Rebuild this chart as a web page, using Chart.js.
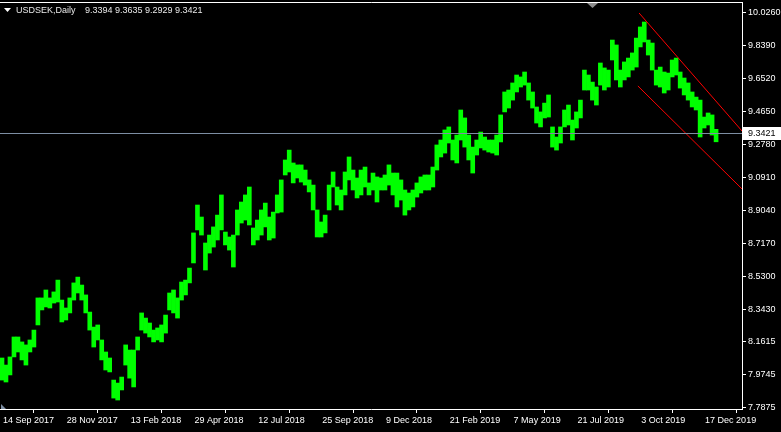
<!DOCTYPE html>
<html><head><meta charset="utf-8">
<script src="https://cdn.jsdelivr.net/npm/chart.js@4/dist/chart.umd.min.js"></script>
<style>html,body{margin:0;padding:0;background:#000;}canvas{display:block}</style>
</head><body>
<canvas id="c" width="781" height="432"></canvas>
<script>
const symbolName = 'USDSEK,Daily';
const lastOHLC = ['9.3394', '9.3635', '9.2929', '9.3421'];
const bidPrice = 9.3421;
const totalSlots = 186;
const dateLabels = ['14 Sep 2017','28 Nov 2017','13 Feb 2018','29 Apr 2018','12 Jul 2018','25 Sep 2018','9 Dec 2018','21 Feb 2019','7 May 2019','21 Jul 2019','3 Oct 2019','17 Dec 2019'];
const dateBarIndex = [0,16,32,48,64,80,96,112,128,144,160,176];
const priceTicks = [10.0260,9.8390,9.6520,9.4650,9.2780,9.0910,8.9040,8.7170,8.5300,8.3430,8.1615,7.9745,7.7875];
const priceMin = 7.7802, priceMax = 10.0843;

const highs = [8.069,8.029,8.075,8.188,8.188,8.160,8.143,8.171,8.227,8.409,
8.409,8.454,8.409,8.443,8.510,8.397,8.352,8.409,8.494,8.527,
8.482,8.426,8.329,8.244,8.256,8.171,8.103,8.069,7.944,7.927,
7.961,8.143,8.114,8.114,8.188,8.324,8.295,8.267,8.227,8.239,
8.256,8.312,8.437,8.454,8.409,8.499,8.510,8.578,8.777,8.935,
8.867,8.720,8.765,8.811,8.878,8.992,8.782,8.754,8.765,8.907,
8.952,8.992,9.037,8.805,8.850,8.907,8.946,8.867,8.895,8.992,
9.077,9.190,9.246,9.173,9.162,9.162,9.133,9.077,9.048,8.907,
8.839,8.878,9.048,9.122,9.037,9.020,9.122,9.207,9.133,9.088,
9.133,9.150,9.060,9.116,9.094,9.088,9.105,9.162,9.116,9.116,
9.077,9.020,9.003,9.020,9.060,9.094,9.105,9.105,9.150,9.275,
9.303,9.360,9.377,9.303,9.331,9.473,9.428,9.331,9.263,9.303,
9.348,9.320,9.303,9.303,9.331,9.445,9.575,9.586,9.626,9.671,
9.660,9.688,9.626,9.575,9.490,9.462,9.512,9.558,9.377,9.320,
9.377,9.473,9.501,9.416,9.462,9.529,9.699,9.671,9.631,9.603,
9.739,9.711,9.699,9.869,9.841,9.699,9.745,9.767,9.796,9.880,
9.943,9.971,9.869,9.852,9.699,9.716,9.688,9.682,9.756,9.767,
9.688,9.654,9.626,9.575,9.546,9.529,9.433,9.456,9.445,9.3635];
const lows = [7.944,7.933,7.973,8.075,8.103,8.058,8.029,8.103,8.131,8.256,
8.341,8.358,8.352,8.380,8.386,8.273,8.284,8.324,8.397,8.437,
8.397,8.324,8.227,8.131,8.171,8.058,8.001,7.990,7.842,7.831,
7.888,8.029,7.955,7.905,8.114,8.227,8.210,8.188,8.160,8.171,
8.160,8.210,8.341,8.324,8.295,8.397,8.426,8.494,8.607,8.794,
8.765,8.567,8.663,8.697,8.737,8.794,8.709,8.680,8.584,8.765,
8.833,8.850,8.822,8.709,8.737,8.765,8.811,8.737,8.748,8.890,
8.895,9.105,9.122,9.060,9.088,9.065,9.048,9.009,8.907,8.754,
8.754,8.777,8.907,9.037,8.935,8.907,8.992,9.077,9.020,8.975,
8.992,9.037,8.992,9.020,8.952,9.020,9.020,9.048,8.992,8.924,
8.963,8.878,8.907,8.924,8.980,9.003,9.020,9.020,9.037,9.133,
9.207,9.229,9.286,9.190,9.173,9.303,9.263,9.190,9.116,9.218,
9.258,9.246,9.235,9.229,9.218,9.292,9.462,9.484,9.529,9.575,
9.603,9.614,9.529,9.484,9.399,9.377,9.428,9.433,9.263,9.246,
9.286,9.377,9.388,9.303,9.371,9.428,9.586,9.586,9.529,9.501,
9.614,9.586,9.603,9.756,9.643,9.603,9.643,9.660,9.699,9.716,
9.830,9.858,9.784,9.699,9.614,9.603,9.569,9.586,9.660,9.671,
9.597,9.558,9.529,9.490,9.473,9.320,9.371,9.388,9.331,9.2929];

const upperChannel = [[159.7, 10.022], [185.5, 9.354]];
const lowerChannel = [[159.4, 9.609], [185.5, 9.026]];

const FONT = {family: '"Liberation Sans", Arial, sans-serif', size: 9};
const FONT_CSS = '9px "Liberation Sans", Arial, sans-serif';

const decor = {
  id: 'decor',
  beforeDraw(chart) {
    const ctx = chart.ctx;
    ctx.save();
    ctx.fillStyle = '#000';
    ctx.fillRect(0, 0, chart.width, chart.height);
    ctx.restore();
  },
  afterDatasetsDraw(chart) {
    const ctx = chart.ctx, a = chart.chartArea;
    const y = Math.round(chart.scales.y.getPixelForValue(bidPrice)) + 0.5;
    ctx.save();
    ctx.strokeStyle = '#7d8ea3';
    ctx.lineWidth = 1;
    ctx.beginPath(); ctx.moveTo(a.left, y); ctx.lineTo(a.right, y); ctx.stroke();
    ctx.restore();
  },
  afterDraw(chart) {
    const ctx = chart.ctx, a = chart.chartArea;
    ctx.save();
    ctx.strokeStyle = '#fff'; ctx.lineWidth = 1;
    ctx.beginPath(); ctx.moveTo(0, 2.5); ctx.lineTo(a.right + 0.5, 2.5); ctx.stroke();
    ctx.fillStyle = '#fff';
    ctx.beginPath(); ctx.moveTo(4, 8); ctx.lineTo(11, 8); ctx.lineTo(7.5, 12); ctx.closePath(); ctx.fill();
    ctx.font = FONT_CSS; ctx.textBaseline = 'middle'; ctx.textAlign = 'left';
    ctx.fillStyle = '#e8e8e8';
    ctx.fillText(symbolName, 16, 10.5);
    ctx.fillText(lastOHLC.join(' '), 85, 10.5);
    ctx.fillStyle = '#8c8c8c';
    ctx.beginPath(); ctx.moveTo(587, 3); ctx.lineTo(598, 3); ctx.lineTo(592.5, 8); ctx.closePath(); ctx.fill();
    ctx.fillStyle = '#7d8ea3';
    ctx.beginPath(); ctx.moveTo(1, 404); ctx.lineTo(1, 409); ctx.lineTo(6, 409); ctx.closePath(); ctx.fill();
    const y = Math.round(chart.scales.y.getPixelForValue(bidPrice));
    ctx.fillStyle = '#fff';
    ctx.fillRect(a.right + 1, y - 6, 38, 13);
    ctx.fillStyle = '#000';
    ctx.fillText(bidPrice.toFixed(4), a.right + 6, y + 0.5);
    ctx.restore();
  }
};

new Chart(document.getElementById('c'), {
  data: {
    datasets: [
      {
        type: 'bar',
        data: highs.map((h, i) => ({x: i, y: [lows[i], h]})),
        backgroundColor: '#00ff00',
        borderWidth: 0,
        barPercentage: 1,
        categoryPercentage: 1,
        grouped: false,
        order: 2
      },
      {
        type: 'line',
        data: upperChannel.map(p => ({x: p[0], y: p[1]})),
        borderColor: '#ff0000', borderWidth: 1, pointRadius: 0, fill: false, order: 1
      },
      {
        type: 'line',
        data: lowerChannel.map(p => ({x: p[0], y: p[1]})),
        borderColor: '#ff0000', borderWidth: 1, pointRadius: 0, fill: false, order: 1
      }
    ]
  },
  options: {
    responsive: false,
    animation: false,
    events: [],
    devicePixelRatio: 1,
    layout: {padding: {left: 0, top: 2, right: 0, bottom: 0}},
    plugins: {legend: {display: false}, tooltip: {enabled: false}},
    scales: {
      x: {
        type: 'linear',
        min: -0.5, max: totalSlots - 0.5,
        offset: false,
        afterBuildTicks(scale) { scale.ticks = dateBarIndex.map(v => ({value: v})); },
        afterFit(scale) { scale.height = 23; scale.paddingLeft = 0; scale.paddingRight = 0; },
        ticks: {
          autoSkip: false, maxRotation: 0, minRotation: 0, align: 'start',
          padding: 2, labelOffset: 1,
          color: '#ffffff', font: FONT,
          callback(v) { const k = dateBarIndex.indexOf(v); return k >= 0 ? dateLabels[k] : ''; }
        },
        grid: {drawOnChartArea: false, drawTicks: true, tickLength: 4, color: '#ffffff', lineWidth: 1},
        border: {display: true, color: '#ffffff', width: 1}
      },
      y: {
        type: 'linear',
        position: 'right',
        min: priceMin, max: priceMax,
        afterBuildTicks(scale) { scale.ticks = priceTicks.map(v => ({value: v})); },
        afterFit(scale) { scale.width = 39; scale.paddingTop = 0; scale.paddingBottom = 0; },
        ticks: {
          autoSkip: false, padding: 2, color: '#ffffff', font: FONT,
          callback(v) { return Number(v).toFixed(4); }
        },
        grid: {drawOnChartArea: false, drawTicks: true, tickLength: 4, color: '#ffffff', lineWidth: 1},
        border: {display: true, color: '#ffffff', width: 1}
      }
    }
  },
  plugins: [decor]
});
</script>
</body></html>
